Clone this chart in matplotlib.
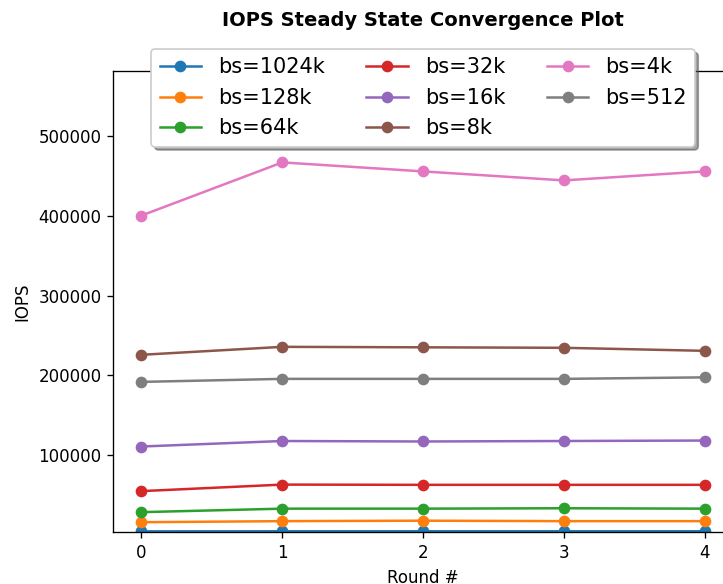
import matplotlib
matplotlib.use("Agg")
import matplotlib.pyplot as plt

rounds = [0, 1, 2, 3, 4]
labels = ["bs=1024k", "bs=128k", "bs=64k", "bs=32k", "bs=16k", "bs=8k", "bs=4k", "bs=512"]
iops_1024k = [4200, 4300, 4300, 4300, 4300]
iops_128k = [15700, 17000, 17600, 17000, 17000]
iops_64k = [28300, 32700, 32700, 33200, 32700]
iops_32k = [54700, 62900, 62600, 62600, 62600]
iops_16k = [110700, 117600, 117000, 117600, 118200]
iops_8k = [225800, 235800, 235200, 234600, 230800]
iops_4k = [400600, 467300, 456000, 444700, 456000]
iops_512 = [191800, 195600, 195600, 195600, 197500]
series = [iops_1024k, iops_128k, iops_64k, iops_32k, iops_16k, iops_8k, iops_4k, iops_512]

fig = plt.figure(figsize=(723 / 120, 584 / 120), dpi=120)
ax = fig.add_axes([0.1567, 0.0885, 0.857, 0.7899])

for vals, lab in zip(series, labels):
    ax.plot(rounds, vals, marker="o", label=lab)

ax.set_xlim(-0.2, 4.2)
ax.set_ylim(3000, 582000)
ax.set_xticks(rounds)
ax.set_yticks([100000, 200000, 300000, 400000, 500000])
ax.set_xlabel("Round #")
ax.set_ylabel("IOPS")
ax.set_title("IOPS Steady State Convergence Plot", fontweight="bold", fontsize=11.7, pad=27)
ax.legend(loc="upper center", bbox_to_anchor=(0.5, 1.07), ncol=3, shadow=True,
          fontsize=12.5)

fig.savefig("out.png", dpi=120)
